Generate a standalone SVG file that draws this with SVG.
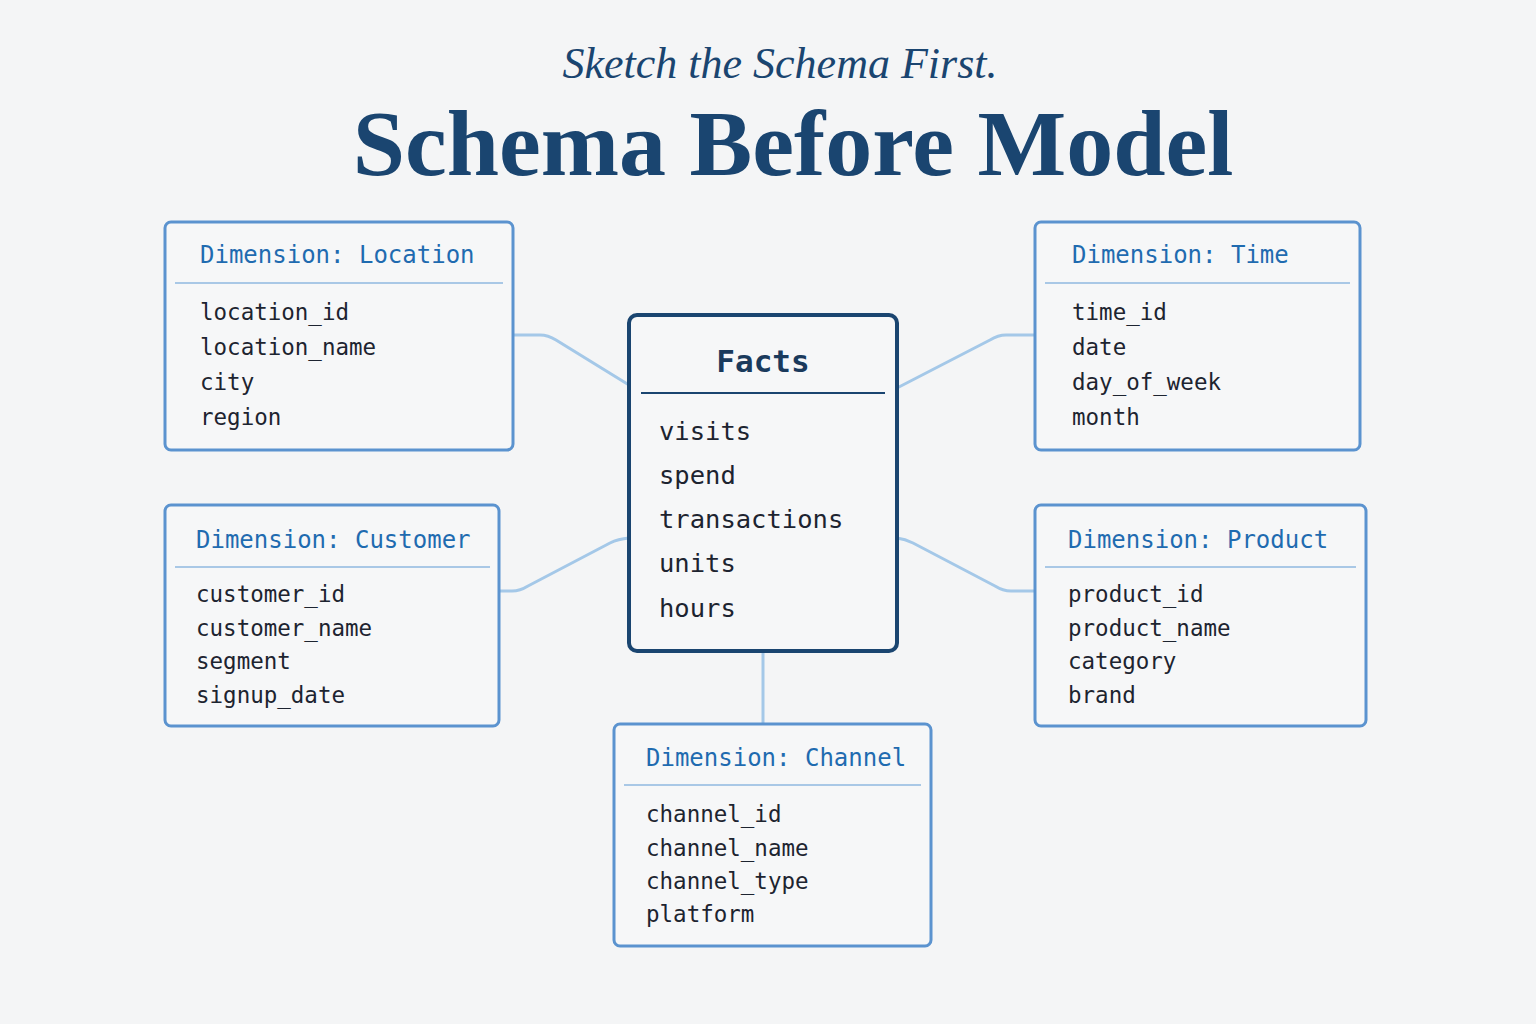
<svg xmlns="http://www.w3.org/2000/svg" width="1536" height="1024" viewBox="0 0 1536 1024">
<style>
.dim{fill:#f6f7f8;stroke:#5b93cf;stroke-width:3}
.hd{font-family:"DejaVu Sans Mono",monospace;font-size:24px;fill:#1f6bb0}
.fl{font-family:"DejaVu Sans Mono",monospace;font-size:22.5px;fill:#1d2430}
.dv{stroke:#8fb8e0;stroke-width:1.5}
.cn{fill:none;stroke:#a4c8e8;stroke-width:3;stroke-linejoin:round}
</style>
<rect width="1536" height="1024" fill="#f4f5f6"/>
<text x="780" y="78" text-anchor="middle" font-family="Liberation Serif,serif" font-style="italic" font-size="44" fill="#1a4570">Sketch the Schema First.</text>
<text x="793" y="175" text-anchor="middle" font-family="Liberation Serif,serif" font-weight="bold" font-size="94" fill="#1a4570">Schema Before Model</text>
<g id="connectors">
<path class="cn" d="M513,335 H540 Q548,335 556,340 L629,385"/>
<path class="cn" d="M897,388 L990,340 Q998,335 1006,335 H1035"/>
<path class="cn" d="M499,591 H512 Q520,591 528,586 L610,543 Q618,539 629,538"/>
<path class="cn" d="M897,538 Q905,539 913,543 L995,586 Q1003,591 1011,591 H1035"/>
<path class="cn" d="M763,651 V724"/>
</g>
<g id="location">
<rect class="dim" x="165" y="222" width="348" height="228" rx="6"/>
<text class="hd" x="200" y="263">Dimension: Location</text>
<line class="dv" x1="175" y1="283" x2="503" y2="283"/>
<text class="fl" x="200" y="320">location_id</text>
<text class="fl" x="200" y="355">location_name</text>
<text class="fl" x="200" y="390">city</text>
<text class="fl" x="200" y="425">region</text>
</g>
<g id="time">
<rect class="dim" x="1035" y="222" width="325" height="228" rx="6"/>
<text class="hd" x="1072" y="263">Dimension: Time</text>
<line class="dv" x1="1045" y1="283" x2="1350" y2="283"/>
<text class="fl" x="1072" y="320">time_id</text>
<text class="fl" x="1072" y="355">date</text>
<text class="fl" x="1072" y="390">day_of_week</text>
<text class="fl" x="1072" y="425">month</text>
</g>
<g id="customer">
<rect class="dim" x="165" y="505" width="334" height="221" rx="6"/>
<text class="hd" x="196" y="548">Dimension: Customer</text>
<line class="dv" x1="175" y1="567" x2="490" y2="567"/>
<text class="fl" x="196" y="602">customer_id</text>
<text class="fl" x="196" y="636">customer_name</text>
<text class="fl" x="196" y="669">segment</text>
<text class="fl" x="196" y="703">signup_date</text>
</g>
<g id="product">
<rect class="dim" x="1035" y="505" width="331" height="221" rx="6"/>
<text class="hd" x="1068" y="548">Dimension: Product</text>
<line class="dv" x1="1045" y1="567" x2="1356" y2="567"/>
<text class="fl" x="1068" y="602">product_id</text>
<text class="fl" x="1068" y="636">product_name</text>
<text class="fl" x="1068" y="669">category</text>
<text class="fl" x="1068" y="703">brand</text>
</g>
<g id="channel">
<rect class="dim" x="614" y="724" width="317" height="222" rx="6"/>
<text class="hd" x="646" y="766">Dimension: Channel</text>
<line class="dv" x1="624" y1="785" x2="921" y2="785"/>
<text class="fl" x="646" y="822">channel_id</text>
<text class="fl" x="646" y="856">channel_name</text>
<text class="fl" x="646" y="889">channel_type</text>
<text class="fl" x="646" y="922">platform</text>
</g>
<g id="facts">
<rect x="629" y="315" width="268" height="336" rx="8" fill="#f6f7f8" stroke="#1a4570" stroke-width="4"/>
<text x="763" y="372" text-anchor="middle" font-family="DejaVu Sans Mono,monospace" font-weight="bold" font-size="31" fill="#1a3a5c">Facts</text>
<line x1="641" y1="393" x2="885" y2="393" stroke="#1a4570" stroke-width="2"/>
<g font-family="DejaVu Sans Mono,monospace" font-size="25.5" fill="#1d2430">
<text x="659" y="440">visits</text>
<text x="659" y="484">spend</text>
<text x="659" y="528">transactions</text>
<text x="659" y="572">units</text>
<text x="659" y="617">hours</text>
</g>
</g>
</svg>
